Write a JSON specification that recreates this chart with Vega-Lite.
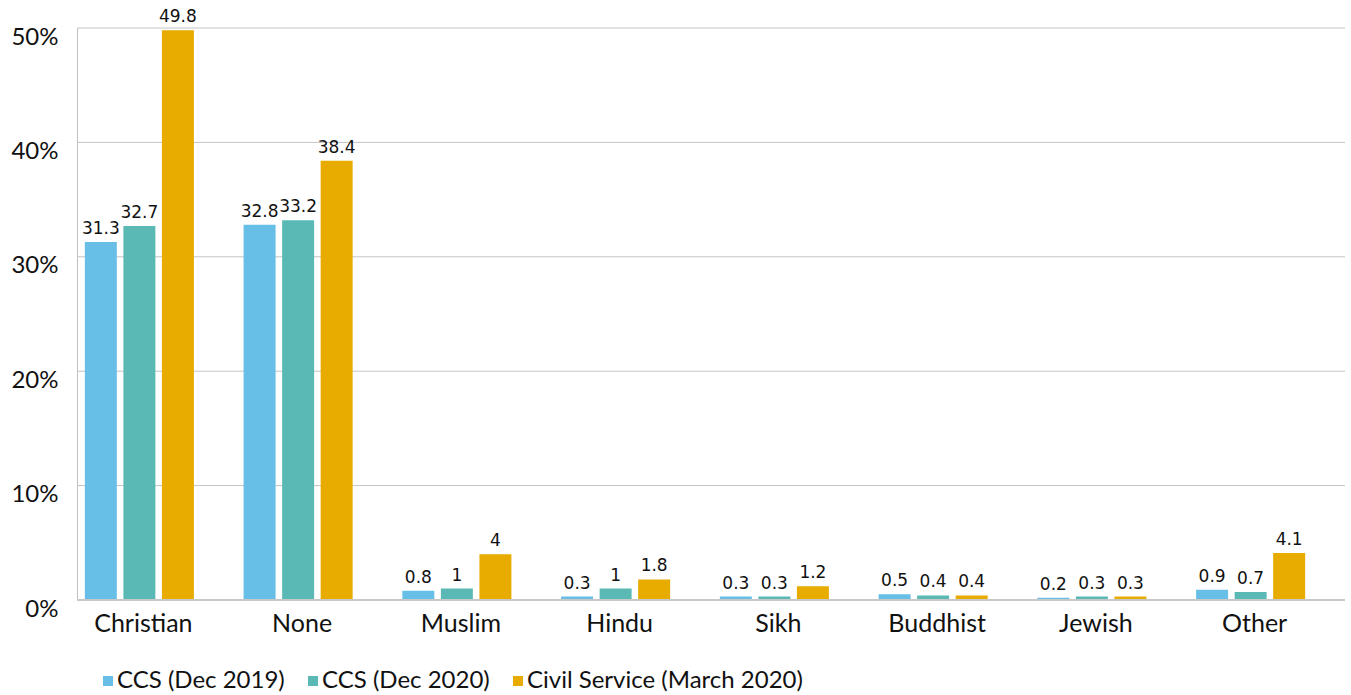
{
  "$schema": "https://vega.github.io/schema/vega-lite/v6.json",
  "width": 1268,
  "height": 572,
  "autosize": "none",
  "padding": {"left": 77, "top": 28, "right": 6, "bottom": 95},
  "config": {"view": {"stroke": null}, "font": "Lato", "background": "white"},
  "datasets": {
    "bars": [
      {"religion": "Christian", "series": "CCS (Dec 2019)", "value": 31.3},
      {"religion": "Christian", "series": "CCS (Dec 2020)", "value": 32.7},
      {"religion": "Christian", "series": "Civil Service (March 2020)", "value": 49.8},
      {"religion": "None", "series": "CCS (Dec 2019)", "value": 32.8},
      {"religion": "None", "series": "CCS (Dec 2020)", "value": 33.2},
      {"religion": "None", "series": "Civil Service (March 2020)", "value": 38.4},
      {"religion": "Muslim", "series": "CCS (Dec 2019)", "value": 0.8},
      {"religion": "Muslim", "series": "CCS (Dec 2020)", "value": 1},
      {"religion": "Muslim", "series": "Civil Service (March 2020)", "value": 4},
      {"religion": "Hindu", "series": "CCS (Dec 2019)", "value": 0.3},
      {"religion": "Hindu", "series": "CCS (Dec 2020)", "value": 1},
      {"religion": "Hindu", "series": "Civil Service (March 2020)", "value": 1.8},
      {"religion": "Sikh", "series": "CCS (Dec 2019)", "value": 0.3},
      {"religion": "Sikh", "series": "CCS (Dec 2020)", "value": 0.3},
      {"religion": "Sikh", "series": "Civil Service (March 2020)", "value": 1.2},
      {"religion": "Buddhist", "series": "CCS (Dec 2019)", "value": 0.5},
      {"religion": "Buddhist", "series": "CCS (Dec 2020)", "value": 0.4},
      {"religion": "Buddhist", "series": "Civil Service (March 2020)", "value": 0.4},
      {"religion": "Jewish", "series": "CCS (Dec 2019)", "value": 0.2},
      {"religion": "Jewish", "series": "CCS (Dec 2020)", "value": 0.3},
      {"religion": "Jewish", "series": "Civil Service (March 2020)", "value": 0.3},
      {"religion": "Other", "series": "CCS (Dec 2019)", "value": 0.9},
      {"religion": "Other", "series": "CCS (Dec 2020)", "value": 0.7},
      {"religion": "Other", "series": "Civil Service (March 2020)", "value": 4.1}
    ],
    "grid": [
      {"level": 10}, {"level": 20}, {"level": 30}, {"level": 40}, {"level": 50}
    ],
    "base": [
      {"level": 0}
    ]
  },
  "layer": [
    {
      "data": {"name": "grid"},
      "mark": {"type": "rule", "color": "#C4C4C4", "strokeWidth": 1},
      "encoding": {
        "y": {
          "field": "level",
          "type": "quantitative",
          "scale": {"domain": [0, 50], "nice": false},
          "axis": {
            "title": null,
            "values": [0, 10, 20, 30, 40, 50],
            "labelExpr": "datum.value + '%'",
            "labelFontSize": 24,
            "labelColor": "#111111",
            "labelPadding": 19,
            "labelOffset": 9,
            "ticks": false,
            "grid": false,
            "domainColor": "#BFBFBF",
            "domainWidth": 1
          }
        }
      }
    },
    {
      "data": {"name": "bars"},
      "encoding": {
        "x": {
          "field": "religion",
          "type": "nominal",
          "sort": ["Christian", "None", "Muslim", "Hindu", "Sikh", "Buddhist", "Jewish", "Other"],
          "scale": {"range": [-17, 1253], "paddingInner": 0, "paddingOuter": 0},
          "axis": {
            "title": null,
            "labelAngle": 0,
            "labelFontSize": 25,
            "labelColor": "#111111",
            "labelPadding": 11,
            "labelOffset": 4,
            "ticks": false,
            "grid": false,
            "domain": false
          }
        },
        "xOffset": {
          "field": "series",
          "type": "nominal",
          "sort": ["CCS (Dec 2019)", "CCS (Dec 2020)", "Civil Service (March 2020)"],
          "scale": {"paddingInner": 0.17, "paddingOuter": 0.645}
        },
        "y": {"field": "value", "type": "quantitative"}
      },
      "layer": [
        {
          "mark": {"type": "bar"},
          "encoding": {
            "color": {
              "field": "series",
              "type": "nominal",
              "sort": ["CCS (Dec 2019)", "CCS (Dec 2020)", "Civil Service (March 2020)"],
              "scale": {
                "domain": ["CCS (Dec 2019)", "CCS (Dec 2020)", "Civil Service (March 2020)"],
                "range": ["#67BEE6", "#5BB9B5", "#E8AB00"]
              },
              "legend": {
                "title": null,
                "orient": "none",
                "legendX": 19,
                "legendY": 641,
                "direction": "horizontal",
                "symbolType": "square",
                "symbolSize": 100,
                "symbolStrokeWidth": 0,
                "labelFontSize": 24,
                "labelColor": "#111111",
                "labelOffset": -3,
                "columnPadding": 16,
                "labelLimit": 400
              }
            }
          }
        },
        {
          "mark": {"type": "text", "baseline": "bottom", "dy": -4, "font": "DejaVu Sans", "fontSize": 17, "color": "#111111"},
          "encoding": {"text": {"field": "value", "type": "quantitative"}}
        }
      ]
    },
    {
      "data": {"name": "base"},
      "mark": {"type": "rule", "color": "#C8C8C8", "strokeWidth": 2},
      "encoding": {"y": {"field": "level", "type": "quantitative"}}
    }
  ]
}
